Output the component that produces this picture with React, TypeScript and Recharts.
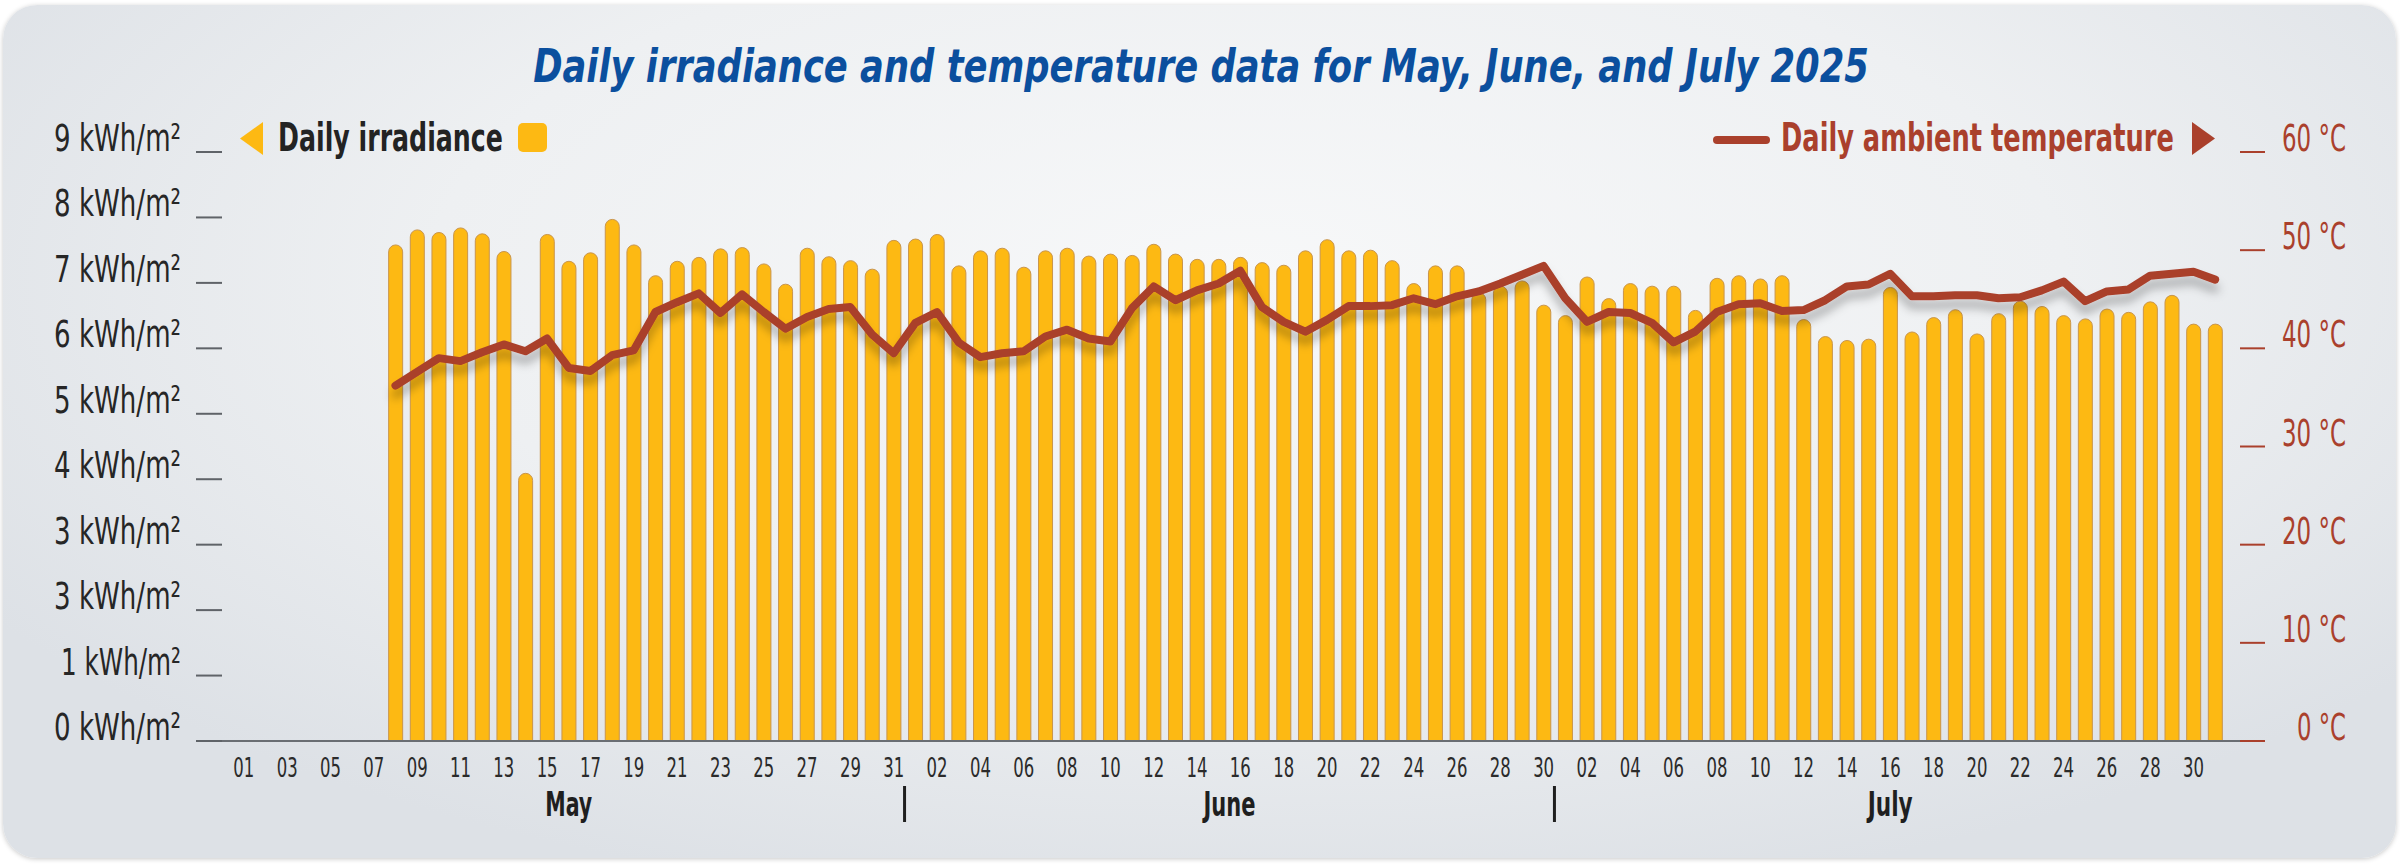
import React, { useLayoutEffect, useRef, useState } from 'react';
import { ComposedChart, Bar, Line, XAxis, YAxis } from 'recharts';

// Monatsdaten: Tageswerte Einstrahlung (kWh/m²) und Umgebungstemperatur (°C)
const MONTHS = ['May', 'June', 'July'];
const MONTH_DAYS = [31, 30, 31];

const MAY_IRRADIANCE = [
  null, null, null, null, null, null, null, 7.58, 7.81, 7.77, 7.84, 7.75, 7.48, 4.09, 7.74, 7.33,
  7.46, 7.97, 7.58, 7.11, 7.33, 7.39, 7.52, 7.54, 7.29, 6.98, 7.53, 7.4, 7.34, 7.21, 7.65,
];
const JUNE_IRRADIANCE = [
  7.67, 7.74, 7.26, 7.49, 7.53, 7.24, 7.49, 7.53, 7.41, 7.44, 7.42, 7.59, 7.44, 7.36, 7.36,
  7.39, 7.31, 7.27, 7.49, 7.66, 7.49, 7.5, 7.34, 6.99, 7.26, 7.26, 6.85, 6.95, 7.03, 6.66,
];
const JULY_IRRADIANCE = [
  6.5, 7.09, 6.76, 6.99, 6.95, 6.95, 6.58, 7.07, 7.11, 7.06, 7.11, 6.44, 6.18, 6.12, 6.14, 6.93,
  6.25, 6.47, 6.59, 6.22, 6.53, 6.72, 6.64, 6.5, 6.45, 6.6, 6.55, 6.71, 6.81, 6.37, 6.37,
];

const MAY_TEMPERATURE = [
  null, null, null, null, null, null, null, 36.2, 37.6, 39.0, 38.7, 39.6, 40.4, 39.7, 41.0, 38.0,
  37.7, 39.3, 39.8, 43.7, 44.7, 45.6, 43.6, 45.5, 43.7, 42.0, 43.2, 44.0, 44.2, 41.4, 39.5,
];
const JUNE_TEMPERATURE = [
  42.6, 43.7, 40.6, 39.1, 39.5, 39.7, 41.2, 41.9, 41.0, 40.7, 44.1, 46.3, 44.9, 45.9, 46.6,
  47.9, 44.2, 42.7, 41.7, 42.9, 44.3, 44.3, 44.4, 45.1, 44.5, 45.3, 45.8, 46.6, 47.5, 48.4,
];
const JULY_TEMPERATURE = [
  45.1, 42.7, 43.7, 43.6, 42.6, 40.6, 41.7, 43.7, 44.5, 44.6, 43.8, 43.9, 44.9, 46.3, 46.5, 47.6,
  45.3, 45.3, 45.4, 45.4, 45.1, 45.2, 45.9, 46.8, 44.8, 45.8, 46.0, 47.4, 47.6, 47.8, 47.0,
];

const LEFT_TICKS = [0, 1, 2, 3, 4, 5, 6, 7, 8, 9];
const LEFT_TICK_LABELS = ['0', '1', '3', '3', '4', '5', '6', '7', '8', '9'];
const RIGHT_TICKS = [0, 10, 20, 30, 40, 50, 60];

const irradiance = [...MAY_IRRADIANCE, ...JUNE_IRRADIANCE, ...JULY_IRRADIANCE];
const temperature = [...MAY_TEMPERATURE, ...JUNE_TEMPERATURE, ...JULY_TEMPERATURE];

const data: any[] = [];
MONTHS.forEach((month, m) => {
  for (let d = 1; d <= MONTH_DAYS[m]; d++) {
    const i = data.length;
    data.push({
      key: `${month}-${d}`,
      day: String(d).padStart(2, '0'),
      month,
      monthIndex: m,
      dayOfMonth: d,
      irr: irradiance[i],
      temp: temperature[i],
    });
  }
});

const W = 2400;
const H = 864;
const LEFT_W = 196;
const RIGHT_W = 135;
const PAD_L = 37;
const PAD_R = 39;
const BAND = (W - LEFT_W - RIGHT_W - PAD_L - PAD_R) / data.length;

const FONT = "'Liberation Sans Narrow', 'DejaVu Sans Condensed', 'Roboto Condensed', 'Liberation Sans', sans-serif";
const MONTH_LABEL_W: Record<string, number> = { May: 47, June: 52, July: 45 };
const YELLOW = '#FDB913';
const RED = '#AA402C';
const BLUE = '#0B4F9E';

// the reference uses a condensed face; squeeze the text horizontally to the width it has there
const FitText = ({ x, y, width, anchor = 'start', children, ...rest }: any) => {
  const ref = useRef<SVGTextElement>(null);
  const [scale, setScale] = useState(1);
  useLayoutEffect(() => {
    if (!ref.current) return;
    const len = ref.current.getComputedTextLength();
    if (len > 0) setScale(width / len);
  }, [width, children]);
  return (
    <text
      ref={ref}
      x={0}
      y={0}
      textAnchor={anchor}
      transform={`translate(${x} ${y}) scale(${scale} 1)`}
      fontFamily={FONT}
      {...rest}
    >
      {children}
    </text>
  );
};

const LeftTick = (props: any) => {
  const { x, y, payload } = props;
  const label = LEFT_TICK_LABELS[LEFT_TICKS.indexOf(payload.value)];
  return (
    <g>
      <line x1={x} x2={x + 26} y1={y} y2={y} stroke="#5f6368" strokeWidth={2} />
      <FitText x={x - 15} y={y - 1} anchor="end" width={label === '1' ? 120 : 127} fontSize={37} fill="#262626">
        {`${label} kWh/m²`}
      </FitText>
    </g>
  );
};

const RightTick = (props: any) => {
  const { x, y, payload } = props;
  return (
    <g>
      <line x1={x - 25} x2={x} y1={y} y2={y} stroke={RED} strokeWidth={2} />
      <FitText x={x + 81} y={y - 1} anchor="end" width={payload.value >= 10 ? 64 : 49} fontSize={37} fill={RED}>
        {`${payload.value} °C`}
      </FitText>
    </g>
  );
};

const DayTick = (props: any) => {
  const { x, y, payload } = props;
  const row = data[payload.index];
  if (!row) return null;
  const days = MONTH_DAYS[row.monthIndex];
  const mid = (days + 1) / 2;
  const showMonth = row.dayOfMonth === Math.floor(mid);
  const monthOffset = (mid - Math.floor(mid)) * BAND;
  const isLast = row.dayOfMonth === days && row.monthIndex < MONTHS.length - 1;
  return (
    <g>
      {payload.index % 2 === 0 && (
        <FitText x={x} y={y + 36} anchor="middle" width={21} fontSize={26} fill="#2b2b2b">
          {row.day}
        </FitText>
      )}
      {showMonth && (
        <FitText
          x={x + monthOffset}
          y={y + 75}
          anchor="middle"
          width={MONTH_LABEL_W[row.month]}
          fontSize={33}
          fontWeight="bold"
          fill="#1f1f1f"
        >
          {row.month}
        </FitText>
      )}
      {isLast && (
        <line x1={x + BAND / 2} x2={x + BAND / 2} y1={y + 45} y2={y + 81} stroke="#1f1f1f" strokeWidth={3} />
      )}
    </g>
  );
};

export default function App() {
  return (
    <div style={{ position: 'absolute', left: 0, top: 0, width: W, height: H, background: '#ffffff' }}>
      <div
        style={{
          position: 'absolute',
          left: 3,
          top: 5,
          width: 2393,
          height: 853,
          borderRadius: 34,
          background: 'radial-gradient(ellipse 62% 75% at 52% 32%, #f7f8f9 0%, #eef0f2 55%, #dde1e6 100%)',
          boxShadow: '0 1px 5px rgba(0,0,0,0.22)',
        }}
      />
      <svg width={0} height={0} style={{ position: 'absolute' }}>
        <defs>
          <filter id="lineShadow" x="-5%" y="-30%" width="110%" height="180%">
            <feDropShadow dx="0" dy="9" stdDeviation="5" floodColor="#000000" floodOpacity="0.28" />
          </filter>
        </defs>
      </svg>
      <div style={{ position: 'absolute', left: 0, top: 0 }}>
        <ComposedChart
          width={W}
          height={H}
          data={data}
          margin={{ top: 152, right: 0, bottom: 23, left: 0 }}
          barCategoryGap={0}
        >
          <XAxis
            dataKey="key"
            interval={0}
            height={100}
            padding={{ left: PAD_L, right: PAD_R }}
            tickLine={false}
            tickSize={0}
            tickMargin={0}
            axisLine={{ stroke: '#6a6e73', strokeWidth: 2 }}
            tick={<DayTick />}
          />
          <YAxis
            yAxisId="irr"
            orientation="left"
            width={LEFT_W}
            domain={[0, 9]}
            ticks={LEFT_TICKS}
            interval={0}
            axisLine={false}
            tickLine={false}
            tickSize={0}
            tickMargin={0}
            tick={<LeftTick />}
          />
          <YAxis
            yAxisId="temp"
            orientation="right"
            width={RIGHT_W}
            domain={[0, 60]}
            ticks={RIGHT_TICKS}
            interval={0}
            axisLine={false}
            tickLine={false}
            tickSize={0}
            tickMargin={0}
            tick={<RightTick />}
          />
          <Bar
            yAxisId="irr"
            dataKey="irr"
            barSize={14}
            radius={[7, 7, 0, 0]}
            fill={YELLOW}
            stroke="#c9954c"
            strokeWidth={1}
            isAnimationActive={false}
          />
          <Line
            yAxisId="temp"
            dataKey="temp"
            type="linear"
            stroke={RED}
            strokeWidth={8}
            strokeLinejoin="round"
            strokeLinecap="round"
            dot={false}
            activeDot={false}
            filter="url(#lineShadow)"
            isAnimationActive={false}
          />
        </ComposedChart>
      </div>
      <svg width={W} height={H} style={{ position: 'absolute', left: 0, top: 0, pointerEvents: 'none' }}>
        <FitText
          x={1201}
          y={82}
          anchor="middle"
          width={1336}
          fontSize={46}
          fontWeight="bold"
          fontStyle="italic"
          fill={BLUE}
        >
          Daily irradiance and temperature data for May, June, and July 2025
        </FitText>
        <polygon points="263,122 240,138.5 263,155" fill={YELLOW} />
        <FitText x={278} y={151} width={225} fontSize={39} fontWeight="bold" fill="#232323">
          Daily irradiance
        </FitText>
        <rect x={518} y={123} width={29} height={29} rx={5} fill={YELLOW} />
        <line x1={1717} x2={1766} y1={140} y2={140} stroke={RED} strokeWidth={8} strokeLinecap="round" />
        <FitText x={1781} y={151} width={393} fontSize={39} fontWeight="bold" fill={RED}>
          Daily ambient temperature
        </FitText>
        <polygon points="2192,122 2215,138.5 2192,155" fill={RED} />
      </svg>
    </div>
  );
}
